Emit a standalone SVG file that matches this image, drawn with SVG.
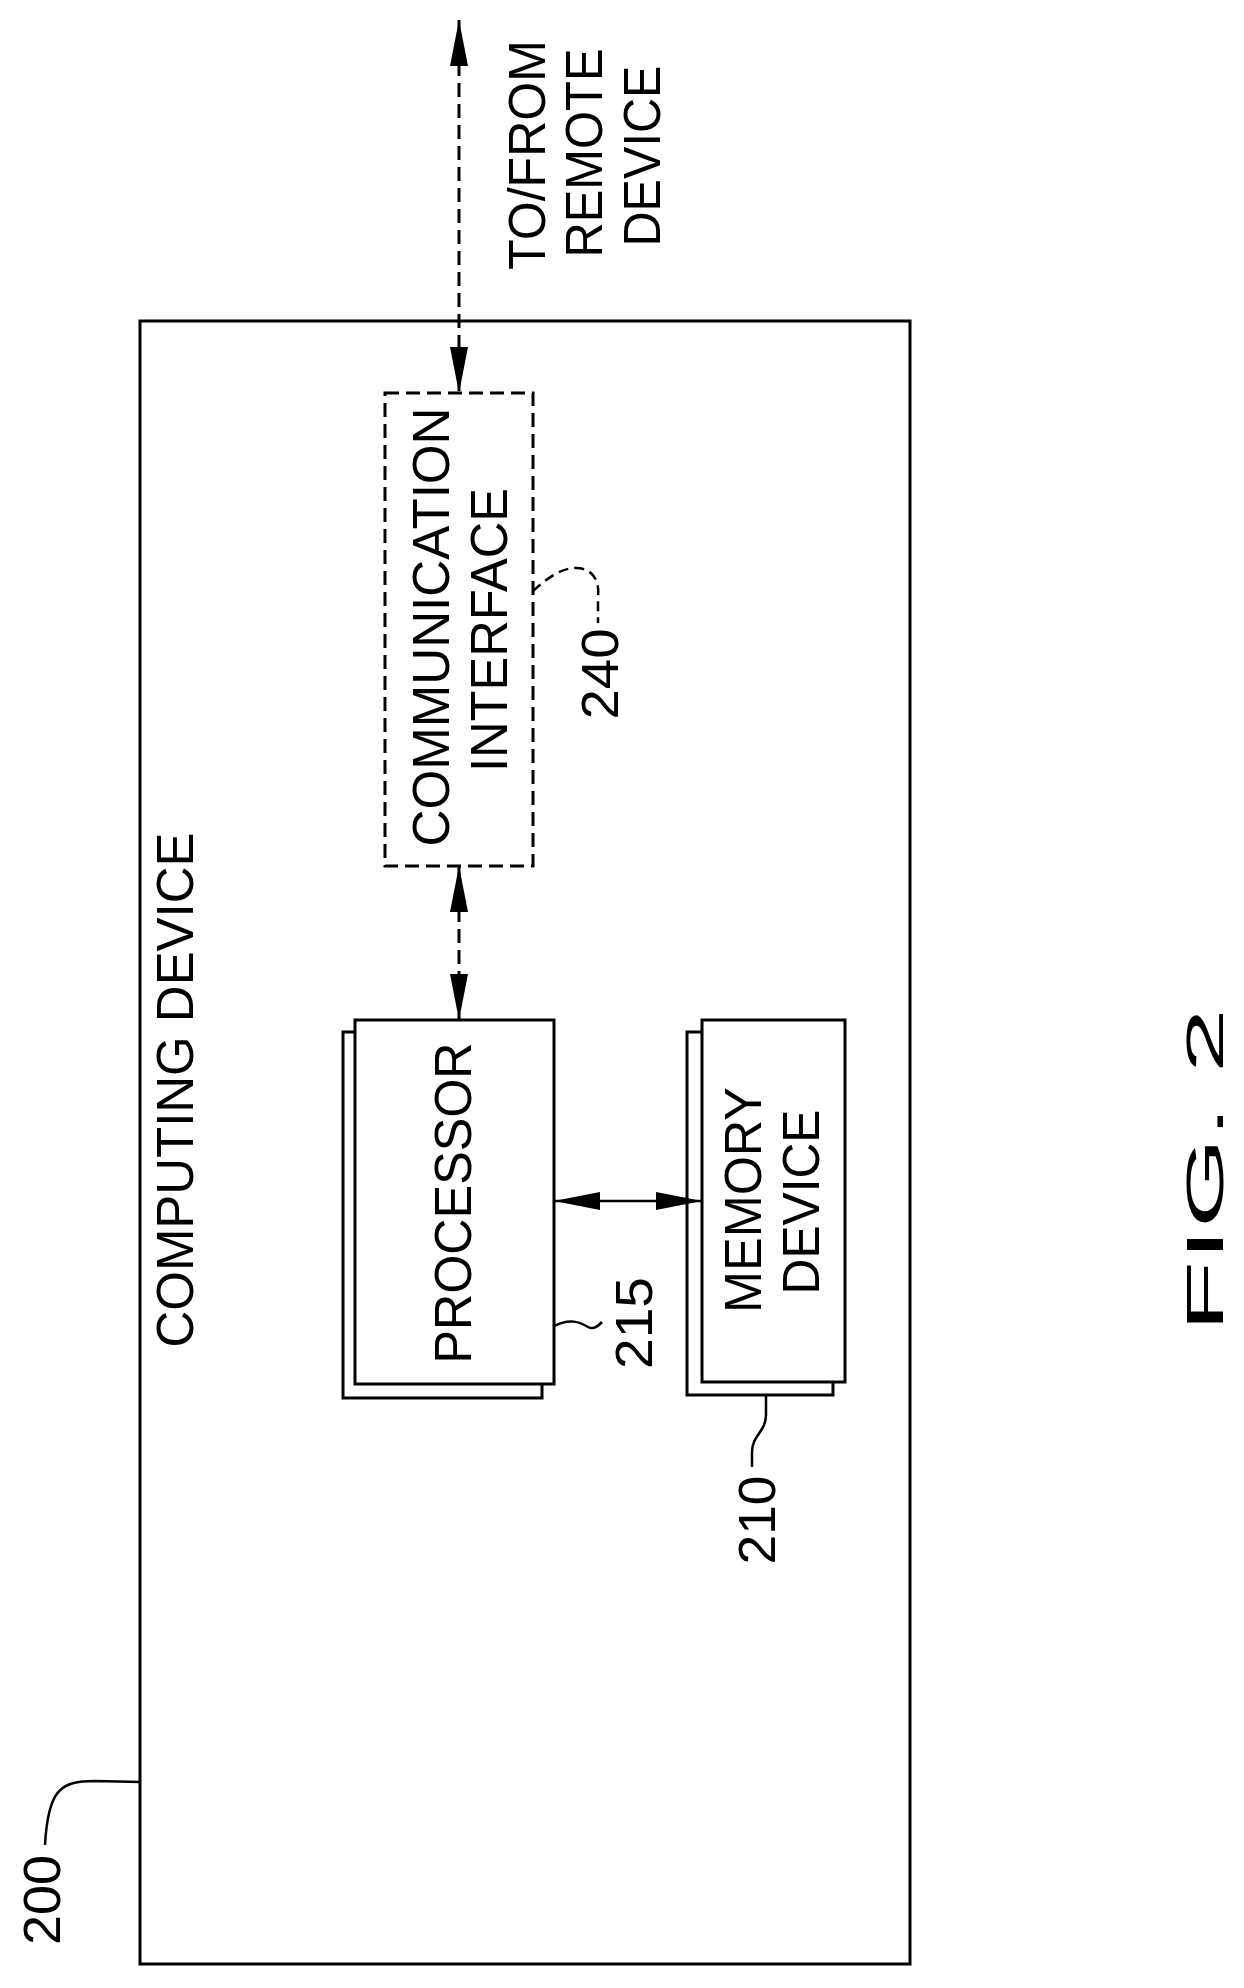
<svg xmlns="http://www.w3.org/2000/svg" width="1244" height="1988" viewBox="0 0 1244 1988">
<style>
.b{fill:#fff;stroke:#000;stroke-width:3}
.l{fill:none;stroke:#000;stroke-width:2.5}
.d{fill:none;stroke:#000;stroke-width:3;stroke-dasharray:14 7}
.t{font-family:"Liberation Sans",Arial,sans-serif;fill:#000;text-anchor:middle;font-size:52px}
</style>
<defs>
<marker id="ah" viewBox="0 0 46 18" refX="46" refY="9" markerWidth="46" markerHeight="18" markerUnits="userSpaceOnUse" orient="auto-start-reverse">
<path d="M0,0 L46,9 L0,18 Z" fill="#000"/>
</marker>
</defs>
<rect width="1244" height="1988" fill="#fff"/>
<g id="computing-device">
<rect class="b" x="140" y="321" width="770" height="1643"/>
<text class="t" font-size="40" transform="translate(193,1090) rotate(-90)" textLength="515" lengthAdjust="spacingAndGlyphs">COMPUTING DEVICE</text>
<path class="l" d="M45,1845 C48,1790 60,1781 95,1781 L140,1782"/>
<text class="t" font-size="60" transform="translate(60,1900) rotate(-90)" textLength="90" lengthAdjust="spacingAndGlyphs">200</text>
</g>
<g id="comm-interface">
<rect class="d" x="385" y="393" width="148" height="473" fill="none"/>
<text class="t" transform="translate(449,627) rotate(-90)" textLength="439" lengthAdjust="spacingAndGlyphs">COMMUNICATION</text>
<text class="t" transform="translate(507,630) rotate(-90)" textLength="284" lengthAdjust="spacingAndGlyphs">INTERFACE</text>
<path class="d" style="stroke-dasharray:10 6;stroke-width:2.5" d="M533,591 C545,580 560,568 576,568 C592,568 600,580 598,597 L598,623"/>
<text class="t" font-size="58" transform="translate(618,674) rotate(-90)" textLength="91" lengthAdjust="spacingAndGlyphs">240</text>
</g>
<g id="processor">
<rect class="b" x="343" y="1032" width="199" height="366"/>
<rect class="b" x="355" y="1020" width="199" height="364"/>
<text class="t" transform="translate(471,1203) rotate(-90)" textLength="321" lengthAdjust="spacingAndGlyphs">PROCESSOR</text>
<path class="l" d="M554,1326 C570,1318 580,1322 588,1327 C594,1330 598,1326 602,1322"/>
<text class="t" font-size="58" transform="translate(652,1323) rotate(-90)" textLength="92" lengthAdjust="spacingAndGlyphs">215</text>
</g>
<g id="memory-device">
<rect class="b" x="687" y="1032" width="146" height="363"/>
<rect class="b" x="702" y="1020" width="143" height="362"/>
<text class="t" transform="translate(761,1200) rotate(-90)" textLength="226" lengthAdjust="spacingAndGlyphs">MEMORY</text>
<text class="t" transform="translate(819,1202) rotate(-90)" textLength="185" lengthAdjust="spacingAndGlyphs">DEVICE</text>
<path class="l" d="M766,1395 L766,1415 C766,1432 752,1435 752,1452 L752,1467"/>
<text class="t" font-size="58" transform="translate(775,1520) rotate(-90)" textLength="89" lengthAdjust="spacingAndGlyphs">210</text>
</g>
<g id="remote-label">
<text class="t" transform="translate(545,155) rotate(-90)" textLength="230" lengthAdjust="spacingAndGlyphs">TO/FROM</text>
<text class="t" transform="translate(602,153) rotate(-90)" textLength="209" lengthAdjust="spacingAndGlyphs">REMOTE</text>
<text class="t" transform="translate(660,156) rotate(-90)" textLength="181" lengthAdjust="spacingAndGlyphs">DEVICE</text>
</g>
<g id="connectors">
<line class="d" x1="459" y1="20" x2="459" y2="393" marker-start="url(#ah)" marker-end="url(#ah)"/>
<line class="d" x1="459" y1="866" x2="459" y2="1020" marker-start="url(#ah)" marker-end="url(#ah)"/>
<line class="l" x1="554" y1="1201" x2="702" y2="1201" marker-start="url(#ah)" marker-end="url(#ah)"/>
</g>
<text class="t" font-size="100" transform="translate(1223,1170) rotate(-90)" textLength="324" lengthAdjust="spacingAndGlyphs">FIG. 2</text>
</svg>
